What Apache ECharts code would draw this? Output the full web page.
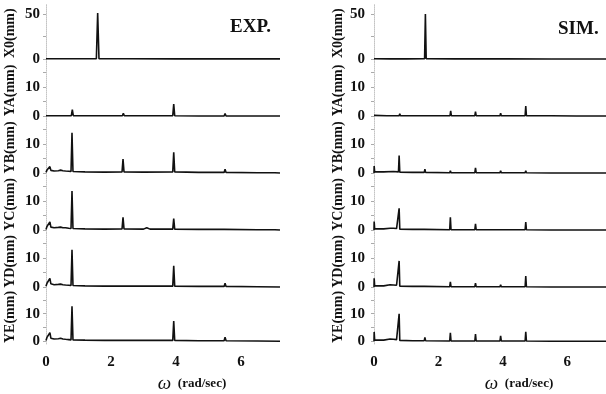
<!DOCTYPE html>
<html><head><meta charset="utf-8">
<script src="https://cdn.jsdelivr.net/npm/echarts@6/dist/echarts.min.js"></script>
<style>html,body{margin:0;padding:0;background:#fff}#c{width:606px;height:394px}</style>
</head><body><div id="c"></div>
<script>
// ---- data (omega rad/sec, amplitude mm) ----
const panelNames = ['X0(mm)','YA(mm)','YB(mm)','YC(mm)','YD(mm)','YE(mm)'];
const xTicks = [0,2,4,6];
const yTicksX0 = [0,50];
const yTicksY = [0,10];

const expX0 = [[0,0.3],[0.5,0.2],[1.0,0.2],[1.55,0.4],[1.59,51],[1.63,0.4],[2.5,0.2],[4,0.1],[5.5,0.1],[7.2,0.1]];
const expYA = [[0,0.1],[0.5,0.1],[0.78,0.1],[0.81,2.2],[0.84,0.1],[1.6,0.1],[2.35,0.1],[2.38,0.9],[2.41,0.1],[3.2,0.1],[3.9,0.1],[3.93,4.1],[3.96,0.1],[4.7,0],[5.48,0],[5.51,0.8],[5.54,0],[6.5,0],[7.2,0]];
const expYB = [[0,0.2],[0.03,1.0],[0.06,0.6],[0.09,1.2],[0.12,2.2],[0.15,0.9],[0.2,1.2],[0.25,0.7],[0.3,1.0],[0.38,0.8],[0.45,1.0],[0.52,0.8],[0.6,0.7],[0.7,0.6],[0.77,0.5],[0.8,13.9],[0.83,0.5],[1.2,0.4],[1.8,0.3],[2.34,0.4],[2.37,4.8],[2.40,0.4],[3.0,0.3],[3.9,0.4],[3.93,7.1],[3.96,0.4],[4.7,0.2],[5.48,0.2],[5.51,1.3],[5.54,0.2],[6.5,0.1],[7.04,0.1],[7.07,0.5],[7.1,0.1],[7.2,0]];
const expYC = [[0,0.2],[0.03,1.2],[0.06,0.7],[0.09,1.4],[0.12,2.8],[0.15,1.0],[0.2,1.3],[0.25,0.8],[0.3,1.0],[0.38,0.9],[0.45,1.0],[0.52,0.8],[0.6,0.8],[0.7,0.6],[0.77,0.5],[0.8,13.4],[0.83,0.5],[1.2,0.4],[1.8,0.3],[2.34,0.4],[2.37,4.4],[2.40,0.4],[3.0,0.3],[3.1,0.8],[3.2,0.3],[3.9,0.3],[3.93,3.9],[3.96,0.3],[4.7,0.2],[5.48,0.2],[5.51,0.6],[5.54,0.2],[6.5,0.1],[7.04,0.1],[7.07,0.3],[7.1,0.1],[7.2,0]];
const expYD = [[0,0.3],[0.03,1.3],[0.06,0.8],[0.09,1.5],[0.12,3.0],[0.15,1.1],[0.2,1.2],[0.25,0.8],[0.3,1.0],[0.38,0.9],[0.45,1.0],[0.52,0.8],[0.6,0.7],[0.7,0.6],[0.77,0.5],[0.8,12.8],[0.83,0.5],[1.2,0.4],[1.8,0.3],[2.4,0.3],[3.05,0.3],[3.1,0.5],[3.15,0.3],[3.9,0.3],[3.93,7.3],[3.96,0.3],[4.7,0.2],[5.48,0.2],[5.51,1.3],[5.54,0.2],[6.5,0.1],[7.2,0]];
const expYE = [[0,0.3],[0.03,1.4],[0.06,0.8],[0.09,1.5],[0.12,3.1],[0.15,1.1],[0.2,1.3],[0.25,0.8],[0.3,1.0],[0.38,0.9],[0.45,1.1],[0.52,0.8],[0.6,0.7],[0.7,0.6],[0.77,0.5],[0.8,12.7],[0.83,0.5],[1.2,0.4],[1.8,0.3],[2.4,0.3],[3.05,0.3],[3.1,0.5],[3.15,0.3],[3.9,0.3],[3.93,7.3],[3.96,0.3],[4.7,0.2],[5.48,0.2],[5.51,1.5],[5.54,0.2],[6.5,0.1],[7.2,0]];

const simX0 = [[0,0.2],[0.5,0.1],[1.0,0.1],[1.57,0.4],[1.595,50],[1.62,0.4],[2.5,0.1],[4,0.1],[5.5,0],[7.2,0]];
const simYA = [[0,0.2],[0.4,0.1],[0.78,0.1],[0.8,0.8],[0.82,0.1],[1.6,0.1],[2.36,0.1],[2.38,1.8],[2.40,0.1],[3.13,0.1],[3.15,1.5],[3.17,0.1],[3.91,0.1],[3.93,1.0],[3.95,0.1],[4.69,0.1],[4.71,3.4],[4.73,0.1],[5.5,0.1],[6.28,0],[6.3,0.3],[6.32,0],[7.2,0]];
const simYB = [[0,0],[0.005,2.4],[0.02,0.4],[0.3,0.4],[0.6,0.5],[0.76,0.4],[0.78,6.0],[0.8,0.3],[1.2,0.2],[1.56,0.2],[1.58,1.3],[1.6,0.2],[2.35,0.1],[2.37,0.8],[2.39,0.1],[3.13,0.1],[3.15,1.8],[3.17,0.1],[3.91,0.1],[3.93,0.8],[3.95,0.1],[4.69,0.1],[4.71,0.8],[4.73,0.1],[5.5,0],[7.2,0]];
const simYC = [[0,0],[0.005,2.9],[0.02,0.4],[0.3,0.4],[0.5,0.6],[0.6,0.6],[0.7,0.5],[0.76,0.4],[0.78,7.5],[0.8,0.3],[1.2,0.2],[1.56,0.2],[1.58,0.4],[1.6,0.2],[2.35,0.1],[2.37,4.4],[2.39,0.1],[3.13,0.1],[3.15,2.1],[3.17,0.1],[3.91,0.1],[3.93,0.3],[3.95,0.1],[4.69,0.1],[4.71,2.7],[4.73,0.1],[5.5,0],[7.2,0]];
const simYD = [[0,0],[0.005,3.0],[0.02,0.4],[0.3,0.4],[0.5,0.8],[0.6,0.7],[0.7,0.6],[0.76,0.4],[0.78,9.0],[0.8,0.3],[1.2,0.2],[1.56,0.2],[1.58,0.6],[1.6,0.2],[2.35,0.1],[2.37,1.8],[2.39,0.1],[3.13,0.1],[3.15,1.3],[3.17,0.1],[3.91,0.1],[3.93,0.8],[3.95,0.1],[4.69,0.1],[4.71,3.8],[4.73,0.1],[5.5,0],[7.2,0]];
const simYE = [[0,0],[0.005,3.4],[0.02,0.4],[0.3,0.4],[0.5,0.8],[0.6,0.7],[0.7,0.6],[0.76,0.4],[0.78,10.0],[0.8,0.3],[1.2,0.2],[1.56,0.2],[1.58,1.4],[1.6,0.2],[2.35,0.1],[2.37,3.1],[2.39,0.1],[3.13,0.1],[3.15,2.6],[3.17,0.1],[3.91,0.1],[3.93,2.0],[3.95,0.1],[4.69,0.1],[4.71,3.4],[4.73,0.1],[5.5,0],[7.2,0]];

const expSeries = [expX0, expYA, expYB, expYC, expYD, expYE];
const simSeries = [simX0, simYA, simYB, simYC, simYD, simYE];

// ---- layout ----
const cols = [{left:46, width:234, labelMargin:6}, {left:374, width:232, labelMargin:9}];
const serif = '"Liberation Serif","DejaVu Serif",serif';
const grids = [], xAxes = [], yAxes = [], series = [];
cols.forEach((col, c) => {
  const data = c === 0 ? expSeries : simSeries;
  for (let i = 0; i < 6; i++) {
    const zero = 59 + 57 * i;
    const first = i === 0;
    const pxPerUnit = first ? 0.9 : 2.9;
    const min = first ? -3 : -1;
    const max = min + 57 / pxPerUnit;
    const top = zero - (max) * pxPerUnit;
    const idx = grids.length;
    grids.push({left: col.left, width: col.width, top: top, height: 57});
    const last = i === 5;
    xAxes.push({
      type:'value', gridIndex: idx, min: 0, max: 7.2,
      axisLine:{show:false}, axisTick:{show:false}, splitLine:{show:false},
      axisLabel:{show:last, customValues: xTicks, margin: 11, color:'#111',
        fontFamily: serif, fontWeight:'bold', fontSize:15},
      name: last ? '{w|ω}  {u|(rad/sec)}' : '',
      nameLocation:'middle', nameGap: 30,
      nameTextStyle:{padding:[0,0,0,58], rich:{
        w:{fontFamily:serif, fontStyle:'italic', fontSize:19, color:'#111'},
        u:{fontFamily:serif, fontWeight:'bold', fontSize:13, color:'#111'}}}
    });
    const ticks = first ? yTicksX0 : yTicksY;
    yAxes.push({
      type:'value', gridIndex: idx, min: min, max: max,
      axisLine:{show:true, lineStyle:{color:'#c4c4c4', width:1, type:'dotted'}},
      axisTick:{show:true, customValues: first ? [0,25,50] : [0,5,10,15], length:3, lineStyle:{color:'#aaa'}},
      axisLabel:{customValues: ticks, margin: col.labelMargin, color:'#111',
        fontFamily: serif, fontWeight:'bold', fontSize:15},
      splitLine:{show:false},
      name: panelNames[i], nameLocation:'middle', nameRotate: 90, nameGap: 29,
      nameTextStyle:{fontFamily: serif, fontWeight:'bold', fontSize:14, color:'#111'}
    });
    series.push({
      type:'line', xAxisIndex: idx, yAxisIndex: idx, data: data[i],
      showSymbol:false, symbol:'none', silent:true, animation:false,
      lineStyle:{color:'#111', width:1.6}
    });
  }
});

const chart = echarts.init(document.getElementById('c'), null, {renderer:'canvas'});
chart.setOption({
  backgroundColor:'#fff',
  animation:false,
  title:[
    {text:'EXP.', left:225, top:13, textStyle:{fontFamily:serif, fontWeight:'bold', fontSize:19, color:'#111'}},
    {text:'SIM.', left:553, top:15, textStyle:{fontFamily:serif, fontWeight:'bold', fontSize:19, color:'#111'}}
  ],
  grid: grids, xAxis: xAxes, yAxis: yAxes, series: series
});
</script></body></html>
